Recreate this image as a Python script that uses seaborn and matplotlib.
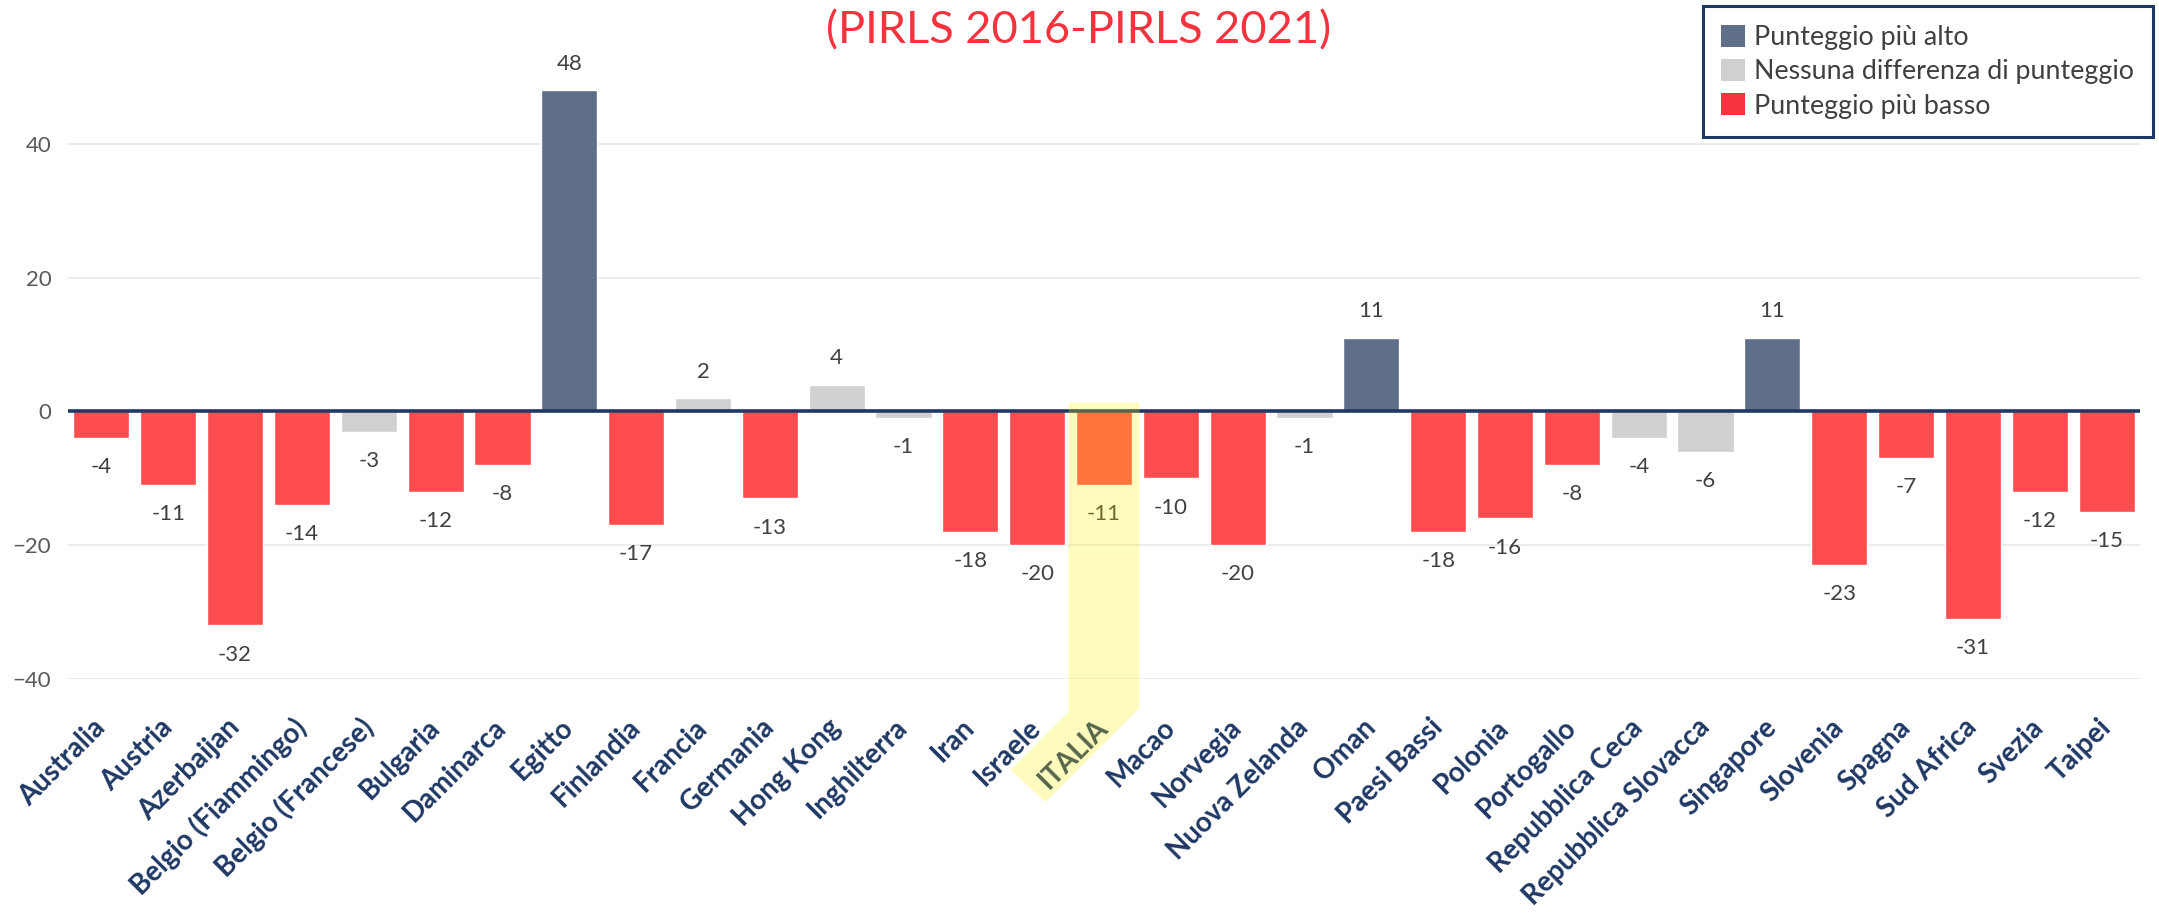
import matplotlib
matplotlib.use("Agg")
import matplotlib.pyplot as plt
import pandas as pd
import seaborn as sns
from matplotlib.patches import Patch, Polygon
from matplotlib.transforms import IdentityTransform

# Score change per country, PIRLS 2016 -> PIRLS 2021
countries = [
    "Australia", "Austria", "Azerbaijan", "Belgio (Fiammingo)", "Belgio (Francese)",
    "Bulgaria", "Daminarca", "Egitto", "Finlandia", "Francia", "Germania",
    "Hong Kong", "Inghilterra", "Iran", "Israele", "ITALIA", "Macao", "Norvegia",
    "Nuova Zelanda", "Oman", "Paesi Bassi", "Polonia", "Portogallo",
    "Repubblica Ceca", "Repubblica Slovacca", "Singapore", "Slovenia", "Spagna",
    "Sud Africa", "Svezia", "Taipei",
]
differences = [
    -4, -11, -32, -14, -3, -12, -8, 48, -17, 2, -13, 4, -1, -18, -20, -11, -10,
    -20, -1, 11, -18, -16, -8, -4, -6, 11, -23, -7, -31, -12, -15,
]
group_labels = ["Punteggio più alto", "Nessuna differenza di punteggio", "Punteggio più basso"]
groups = [
    group_labels[2], group_labels[2], group_labels[2], group_labels[2], group_labels[1],
    group_labels[2], group_labels[2], group_labels[0], group_labels[2], group_labels[1],
    group_labels[2], group_labels[1], group_labels[1], group_labels[2], group_labels[2],
    group_labels[2], group_labels[2], group_labels[2], group_labels[1], group_labels[0],
    group_labels[2], group_labels[2], group_labels[2], group_labels[1], group_labels[1],
    group_labels[0], group_labels[2], group_labels[2], group_labels[2], group_labels[2],
    group_labels[2],
]
y_ticks = [-40, -20, 0, 20, 40]
highlight_country = "ITALIA"
title_text = "(PIRLS 2016-PIRLS 2021)"

bar_colors = ["#5F6E89", "#D0D0D2", "#FF4D4F"]
legend_colors = ["#5F6E89", "#D0D0D2", "#F7333F"]
navy = "#1F3864"

sns.set_theme(style="white")
plt.rcParams["font.family"] = ["Lato", "DejaVu Sans"]

W, H = 2159, 914
fig = plt.figure(figsize=(W / 100, H / 100), dpi=100)
ax = fig.add_axes([68 / W, 1 - 679 / H, 2072 / W, 602 / H])

df = pd.DataFrame({"paese": countries, "diff": differences, "gruppo": groups})
sns.barplot(
    data=df, x="paese", y="diff", hue="gruppo", order=countries,
    hue_order=group_labels, palette=dict(zip(group_labels, bar_colors)),
    dodge=False, width=0.84, saturation=1, errorbar=None, legend=False,
    ax=ax, zorder=2,
)

ax.set_xlim(-0.5, len(countries) - 0.5)
ax.set_ylim(-40, 50)
ax.set_yticks(y_ticks)
ax.yaxis.grid(True, color="#EBEBEB", lw=1.3)
ax.xaxis.grid(False)
ax.set_axisbelow(True)
ax.axhline(0, color=navy, lw=2.6, zorder=3)
for s in ax.spines.values():
    s.set_visible(False)
ax.set_xlabel("")
ax.set_ylabel("")

ax.tick_params(axis="y", length=0, pad=12, labelsize=16, labelcolor="#595959")
ax.tick_params(axis="x", length=0, pad=32, labelsize=20, labelcolor=navy)
for lab in ax.get_xticklabels():
    lab.set_rotation(45)
    lab.set_ha("right")
    lab.set_va("center")
    lab.set_rotation_mode("anchor")
    lab.set_fontweight("bold")

# value labels above / below each bar
for i, v in enumerate(differences):
    ax.annotate(
        f"{v}", (i, v), xytext=(0, 19 if v > 0 else -21), textcoords="offset points",
        ha="center", va="center", fontsize=16, color="#404040", zorder=4,
    )

fig.text(1079 / W, 1 - 31 / H, title_text, ha="center", va="center",
         fontsize=32.5, color="#F5333F")

handles = [Patch(facecolor=c, edgecolor="none") for c in legend_colors]
leg = fig.legend(
    handles, group_labels, loc="upper right", bbox_to_anchor=(2153 / W, 1 - 6 / H),
    fontsize=19.3, frameon=True, fancybox=False, framealpha=1, borderpad=0.7,
    handlelength=0.88, handleheight=0.88, handletextpad=0.35, labelspacing=0.34,
    borderaxespad=0,
)
leg.get_frame().set_edgecolor(navy)
leg.get_frame().set_linewidth(2.2)
for t in leg.get_texts():
    t.set_color("#404040")

# translucent yellow band highlighting Italy's bar and axis label
idx = countries.index(highlight_country)
x0, ytop = ax.transData.transform((idx - 0.53, 1.3))
x1 = ax.transData.transform((idx + 0.53, 0))[0]
yb = ax.transAxes.transform((0, 0))[1] - 29
band = Polygon(
    [(x0, ytop), (x1, ytop), (x1, yb), (x1 - 94, yb - 94), (x0 - 58, yb - 62), (x0, yb - 4)],
    closed=True, facecolor="#FFF000", edgecolor="none", alpha=0.25,
    transform=IdentityTransform(), zorder=10,
)
fig.add_artist(band)

fig.savefig("out.png", dpi=100)
